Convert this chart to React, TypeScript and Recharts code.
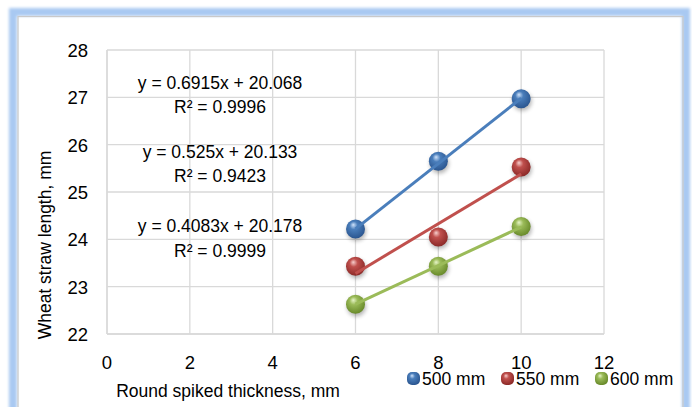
import React from "react";
import {
  ScatterChart,
  Scatter,
  XAxis,
  YAxis,
  CartesianGrid,
} from "recharts";

const thickness = [6, 8, 10];
const len500 = [24.22, 25.65, 26.97];
const len550 = [23.43, 24.05, 25.53];
const len600 = [22.63, 23.43, 24.27];

// linear trend lines, end points at x = 6 and x = 10
const trendX = [6, 10];
const trend500 = [24.22, 26.98];
const trend550 = [23.28, 25.38];
const trend600 = [22.63, 24.26];

const xTicks = [0, 2, 4, 6, 8, 10, 12];
const yTicks = [22, 23, 24, 25, 26, 27, 28];

const equations = [
  ["y = 0.6915x + 20.068", "R² = 0.9996"],
  ["y = 0.525x + 20.133", "R² = 0.9423"],
  ["y = 0.4083x + 20.178", "R² = 0.9999"],
];

const FONT = "'Liberation Sans', Arial, sans-serif";

const SERIES = [
  { name: "500 mm", color: "#4a7ebb", light: "#cfe2fa", dark: "#2b5690", values: len500, trend: trend500 },
  { name: "550 mm", color: "#c0504d", light: "#f7cfcd", dark: "#8c2a28", values: len550, trend: trend550 },
  { name: "600 mm", color: "#9bbb59", light: "#e6f4c6", dark: "#688a2a", values: len600, trend: trend600 },
];

const toPoints = (xs: number[], ys: number[]) => xs.map((x, i) => ({ x, y: ys[i] }));

const gradId = (i: number) => `ball-${i}`;

function Defs() {
  return (
    <svg width={0} height={0} style={{ position: "absolute" }}>
      <defs>
        {SERIES.map((s, i) => (
          <radialGradient key={i} id={gradId(i)} cx="45%" cy="40%" r="60%" fx="38%" fy="28%">
            <stop offset="0%" stopColor={s.light} />
            <stop offset="35%" stopColor={s.color} />
            <stop offset="100%" stopColor={s.dark} />
          </radialGradient>
        ))}
        <filter id="soft" x="-50%" y="-50%" width="200%" height="200%">
          <feGaussianBlur stdDeviation="2" />
        </filter>
        <filter id="glow" x="-5%" y="-5%" width="110%" height="110%">
          <feGaussianBlur stdDeviation="1.5" />
        </filter>
      </defs>
    </svg>
  );
}

const makeBall = (i: number) => (props: any) => {
  const { cx, cy } = props;
  if (cx == null || cy == null) return <g />;
  return (
    <g>
      <circle cx={cx + 1} cy={cy + 2.5} r={9.5} fill="#000" opacity={0.3} filter="url(#soft)" />
      <circle cx={cx} cy={cy} r={9.5} fill={`url(#${gradId(i)})`} />
    </g>
  );
};

const noShape = () => <g />;

const XTick = ({ x, y, payload }: any) => (
  <text x={x} y={y + 33} textAnchor="middle" fontSize={18.5} fontFamily={FONT} fill="#000">
    {payload.value}
  </text>
);

const YTick = ({ x, y, payload }: any) => (
  <text x={x - 17} y={y + 7} textAnchor="end" fontSize={18.5} fontFamily={FONT} fill="#000">
    {payload.value}
  </text>
);

export default function App() {
  return (
    <div style={{ position: "relative", width: 692, height: 407, background: "#fff", overflow: "hidden" }}>
      <style>{"body{margin:0}"}</style>
      <Defs />
      <ScatterChart width={692} height={407} margin={{ top: 50, right: 88, bottom: 43, left: 47 }}>
        <CartesianGrid stroke="#d9d9d9" strokeWidth={1.3} />
        <XAxis
          type="number"
          dataKey="x"
          domain={[0, 12]}
          ticks={xTicks}
          height={30}
          tickLine={false}
          tickSize={0}
          axisLine={{ stroke: "#d9d9d9", strokeWidth: 1.3 }}
          tick={<XTick />}
          interval={0}
        />
        <YAxis
          type="number"
          dataKey="y"
          domain={[22, 28]}
          ticks={yTicks}
          width={60}
          tickLine={false}
          tickSize={0}
          axisLine={{ stroke: "#d9d9d9", strokeWidth: 1.3 }}
          tick={<YTick />}
          interval={0}
        />
        {SERIES.map((s, i) => (
          <Scatter
            key={s.name}
            name={s.name}
            data={toPoints(thickness, s.values)}
            fill={s.color}
            shape={makeBall(i)}
            isAnimationActive={false}
          />
        ))}
        {SERIES.map((s) => (
          <Scatter
            key={s.name + "-trend"}
            name={s.name + " trend"}
            data={toPoints(trendX, s.trend)}
            line={{ stroke: s.color, strokeWidth: 3 }}
            shape={noShape}
            legendType="none"
            isAnimationActive={false}
          />
        ))}
      </ScatterChart>
      <svg
        width={692}
        height={407}
        style={{ position: "absolute", left: 0, top: 0, pointerEvents: "none" }}
      >
        <rect x={13} y={12} width={673} height={430} fill="none" stroke="#a9c9f2" strokeWidth={8} filter="url(#glow)" />
        <rect x={18} y={16.5} width={665} height={430} fill="none" stroke="#c9c9c9" strokeWidth={1.2} />
        {equations.map((eq, i) => (
          <text key={i} textAnchor="middle" fontSize={17.5} fontFamily={FONT} fill="#000">
            <tspan x={220} y={[89, 158, 232][i]}>{eq[0]}</tspan>
            <tspan x={220} y={[113, 182, 257][i]}>{eq[1]}</tspan>
          </text>
        ))}
        <text x={228} y={397} textAnchor="middle" fontSize={17.5} fontFamily={FONT} fill="#000">
          Round spiked thickness, mm
        </text>
        <text
          transform="translate(51, 245) rotate(-90)"
          textAnchor="middle"
          fontSize={17.5}
          fontFamily={FONT}
          fill="#000"
        >
          Wheat straw length, mm
        </text>
        {SERIES.map((s, i) => (
          <g key={s.name} transform={`translate(${406 + i * 94}, 365)`}>
            <rect x={1} y={7} width={13} height={13} rx={5} fill={`url(#${gradId(i)})`} />
            <text x={16} y={20} fontSize={17.5} fontFamily={FONT} fill="#000">
              {s.name}
            </text>
          </g>
        ))}
      </svg>
    </div>
  );
}
